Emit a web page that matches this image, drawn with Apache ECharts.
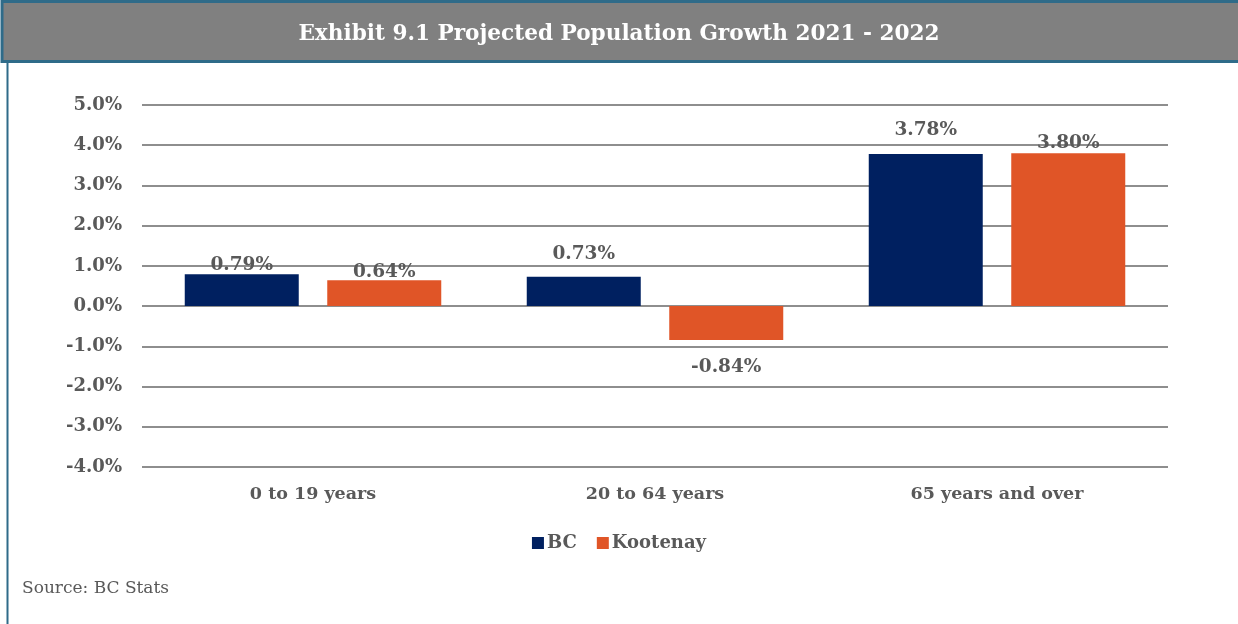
<!DOCTYPE html>
<html>
<head>
<meta charset="utf-8">
<script src="https://cdn.jsdelivr.net/npm/echarts@6/dist/echarts.min.js"></script>
<style>
  html, body { margin: 0; padding: 0; background: #ffffff; }
  #chart { width: 1238px; height: 624px; }
</style>
</head>
<body>
<div id="chart"></div>
<script>
// Age groups and projected growth (%), 2021 - 2022
const categories = ['0 to 19 years', '20 to 64 years', '65 years and over'];
const bcValues = [0.79, 0.73, 3.78];
const kootenayValues = [0.64, -0.84, 3.80];
const seriesNames = ['BC', 'Kootenay'];
const yTicks = { min: -4, max: 5, interval: 1 };

// hand-placed label nudges (px), in the order of the categories
const bcLabelShift = [5, -8, -9];
const kootenayLabelShift = [6, 13, 4];

const FONT = '"DejaVu Serif", serif';
const TEXT = '#595959';
const BORDER = '#2f6b89';

function withLabels(values, shifts) {
  return values.map((v, i) => ({
    value: v,
    label: {
      position: v < 0 ? 'bottom' : 'top',
      offset: [0, shifts[i]]
    }
  }));
}

const chart = echarts.init(document.getElementById('chart'), null, { renderer: 'canvas' });

chart.setOption({
  animation: false,
  backgroundColor: '#ffffff',
  title: {
    text: 'Exhibit 9.1 Projected Population Growth 2021 - 2022',
    left: 'center',
    top: 18,
    textStyle: { color: '#ffffff', fontFamily: FONT, fontWeight: 'bold', fontSize: 21.6 }
  },
  graphic: [
    { type: 'rect', z: -1, shape: { x: 2, y: 1.5, width: 1240, height: 60 },
      style: { fill: '#808080', stroke: BORDER, lineWidth: 3 } },
    { type: 'line', z: -1, shape: { x1: 7.5, y1: 62, x2: 7.5, y2: 624 },
      style: { stroke: BORDER, lineWidth: 2 } },
    { type: 'text', left: 22, top: 580,
      style: { text: 'Source: BC Stats', fill: TEXT, font: '17px ' + FONT } }
  ],
  legend: {
    data: seriesNames,
    bottom: 67,
    left: 'center',
    icon: 'rect',
    itemWidth: 12,
    itemHeight: 12,
    itemGap: 20,
    textStyle: { color: TEXT, fontFamily: FONT, fontWeight: 'bold', fontSize: 18, padding: [0, 0, 0, -2] }
  },
  grid: { left: 142, right: 70, top: 105, bottom: 157 },
  xAxis: {
    type: 'category',
    data: categories,
    axisLine: { show: false },
    axisTick: { show: false },
    axisLabel: { color: TEXT, fontFamily: FONT, fontWeight: 'bold', fontSize: 17.5, margin: 18 }
  },
  yAxis: {
    type: 'value',
    min: yTicks.min,
    max: yTicks.max,
    interval: yTicks.interval,
    axisLine: { show: false },
    axisTick: { show: false },
    splitLine: { lineStyle: { color: '#8e8e8e', width: 2 } },
    axisLabel: {
      color: TEXT, fontFamily: FONT, fontWeight: 'bold', fontSize: 18, margin: 20,
      formatter: v => v.toFixed(1) + '%'
    }
  },
  series: [
    {
      name: seriesNames[0],
      type: 'bar',
      data: withLabels(bcValues, bcLabelShift),
      itemStyle: { color: '#002060' },
      barWidth: 114,
      barGap: '25%',
      label: {
        show: true, color: TEXT, fontFamily: FONT, fontWeight: 'bold', fontSize: 18.5,
        formatter: p => p.value.toFixed(2) + '%'
      }
    },
    {
      name: seriesNames[1],
      type: 'bar',
      data: withLabels(kootenayValues, kootenayLabelShift),
      itemStyle: { color: '#e05527' },
      barWidth: 114,
      barGap: '25%',
      label: {
        show: true, color: TEXT, fontFamily: FONT, fontWeight: 'bold', fontSize: 18.5,
        formatter: p => p.value.toFixed(2) + '%'
      }
    }
  ]
});
</script>
</body>
</html>
